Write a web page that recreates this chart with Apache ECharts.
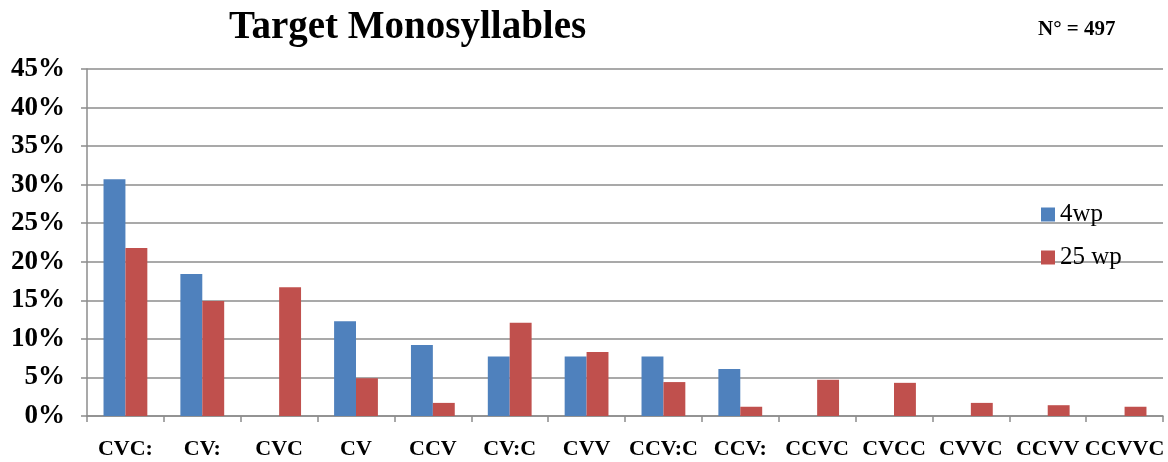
<!DOCTYPE html>
<html>
<head>
<meta charset="utf-8">
<script src="https://cdn.jsdelivr.net/npm/echarts@6/dist/echarts.min.js"></script>
<style>
  html, body { margin: 0; padding: 0; background: #fff; }
  #chart { width: 1168px; height: 462px; }
</style>
</head>
<body>
<div id="chart"></div>
<script>
// 数据
const categories = ['CVC:', 'CV:', 'CVC', 'CV', 'CCV', 'CV:C', 'CVV', 'CCV:C', 'CCV:', 'CCVC', 'CVCC', 'CVVC', 'CCVV', 'CCVVC'];
const wp4 = [30.7, 18.4, 0, 12.3, 9.2, 7.7, 7.7, 7.7, 6.1, 0, 0, 0, 0, 0];
const wp25 = [21.8, 14.9, 16.7, 4.9, 1.7, 12.1, 8.3, 4.4, 1.2, 4.7, 4.3, 1.7, 1.4, 1.2];
const yTicks = [0, 5, 10, 15, 20, 25, 30, 35, 40, 45];

const SERIF = '"Liberation Serif", "DejaVu Serif", serif';
const GRID_COLOR = '#8c8c8c';

const chart = echarts.init(document.getElementById('chart'));

chart.setOption({
    animation: false,
    title: [
        {
            text: 'Target Monosyllables',
            left: 224,
            top: 3,
            textStyle: { fontFamily: SERIF, fontWeight: 'bold', fontSize: 39, color: '#000' }
        },
        {
            text: 'N° = 497',
            left: 1033,
            top: 14,
            textStyle: { fontFamily: SERIF, fontWeight: 'bold', fontSize: 21, color: '#000' }
        }
    ],
    legend: {
        orient: 'vertical',
        left: 1036,
        top: 197,
        itemWidth: 14,
        itemHeight: 14,
        itemGap: 18,
        icon: 'rect',
        textStyle: { fontFamily: SERIF, fontSize: 25, color: '#000' },
        data: ['4wp', '25 wp']
    },
    grid: { left: 87, right: 5, top: 69, bottom: 46 },
    xAxis: {
        type: 'category',
        data: categories,
        axisLine: { lineStyle: { color: GRID_COLOR, width: 1.5 } },
        axisTick: { show: true, length: 6, lineStyle: { color: GRID_COLOR, width: 1.5 } },
        axisLabel: {
            interval: 0,
            margin: 22,
            fontFamily: SERIF,
            fontWeight: 'bold',
            fontSize: 22,
            color: '#000'
        }
    },
    yAxis: {
        type: 'value',
        min: 0,
        max: 45,
        interval: 5,
        axisLine: { show: true, lineStyle: { color: GRID_COLOR, width: 1.5 } },
        axisTick: { show: true, length: 6, lineStyle: { color: GRID_COLOR, width: 1.5 } },
        splitLine: { show: true, lineStyle: { color: GRID_COLOR, width: 1.5 } },
        axisLabel: {
            margin: 22,
            fontFamily: SERIF,
            fontWeight: 'bold',
            fontSize: 27,
            color: '#000',
            formatter: v => (yTicks.includes(v) ? v + '%' : '')
        }
    },
    series: [
        {
            name: '4wp',
            type: 'bar',
            data: wp4,
            barGap: '0%',
            barCategoryGap: '43%',
            itemStyle: { color: '#4F81BD' }
        },
        {
            name: '25 wp',
            type: 'bar',
            data: wp25,
            itemStyle: { color: '#C0504D' }
        }
    ]
});
</script>
</body>
</html>
